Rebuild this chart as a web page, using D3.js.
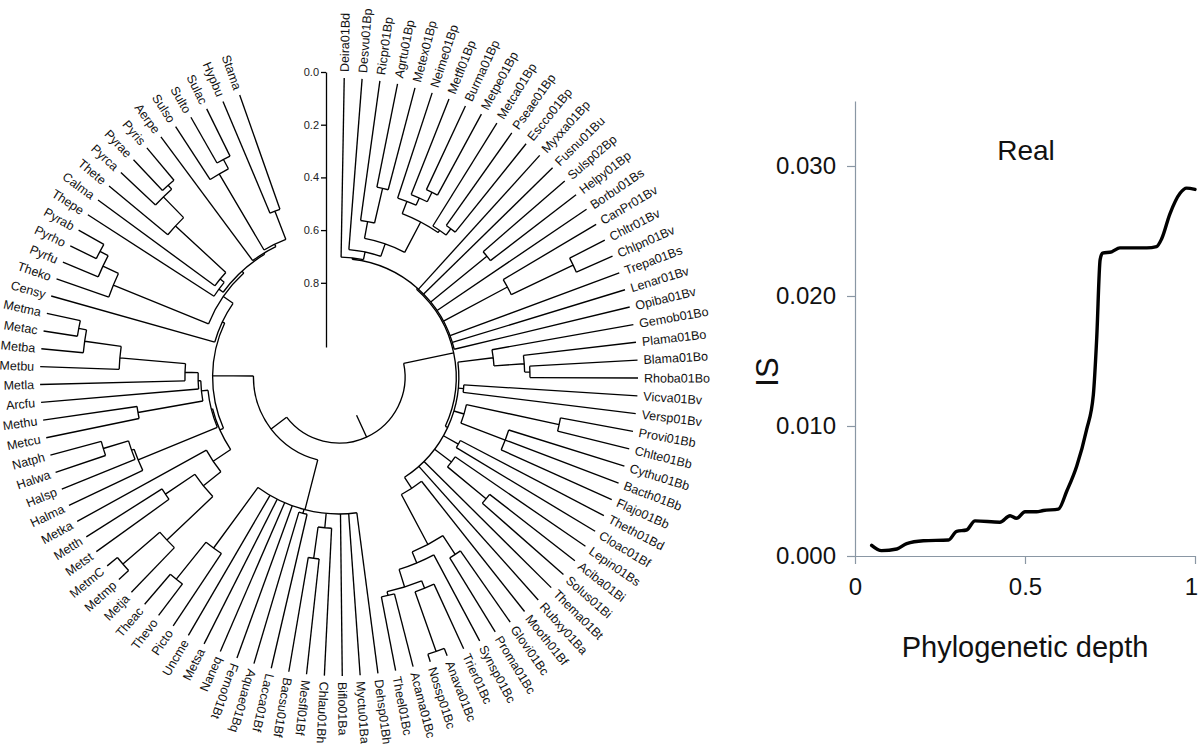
<!DOCTYPE html>
<html>
<head>
<meta charset="utf-8">
<script src="https://cdn.jsdelivr.net/npm/d3@7"></script>
<style>
body { margin: 0; background: #fff; }
svg { display: block; font-family: "Liberation Sans", Arial, Helvetica, sans-serif; }
</style>
</head>
<body>
<svg id="chart" width="1200" height="754"></svg>
<script>
// ---- tree data: internal node = [depth, ...children], leaf = name
// depth (0 = tips)
const proteo = [0.60,
  [0.535, "Ricpr01Bp", [0.40, "Agrtu01Bp", "Metex01Bp"]],
  [0.47,
    [0.42, "Neime01Bp", [0.39, "Metfl01Bp", [0.35, "Burma01Bp", "Metpe01Bp"]]],
    [0.46, "Metca01Bp", [0.43, "Pseae01Bp", "Escco01Bp"]]]]

const upperBact = [0.685,
  [0.68, "Deira01Bd", [0.65, "Desvu01Bp", proteo]],
  "Myxxa01Bp", "Fusnu01Bu", [0.41, "Sulsp02Bp", "Helpy01Bp"], "Borbu01Bs",
  [0.41, "CanPr01Bv", [0.15, "Chltr01Bv", "Chlpn01Bv"]],
  "Trepa01Bs", "Lenar01Bv", "Opiba01Bv"]

const cyano = [0.415,
  [0.33, "Glovi01Bc", "Proma01Bc"],
  [0.37, "Synsp01Bc",
    [0.30, [0.27, "Trier01Bc", [0.03, "Anava01Bc", "Nossp01Bc"]],
           [0.285, "Acama01Bc", "Theel01Bc"]]]]

const lowerBact = [0.68,
  [0.545, "Gemob01Bo", [0.43, "Plama01Bo", [0.41, "Blama01Bo", "Rhoba01Bo"]]],
  [0.66, "Vicva01Bv", "Versp01Bv"],
  [0.64, [0.28, "Provi01Bb", "Chlte01Bb"], [0.46, "Cythu01Bb", "Bacth01Bb", "Flajo01Bb"]],
  [0.615, "Theth01Bd", "Cloac01Bf"],
  [0.60, "Lepin01Bs", [0.41, "Aciba01Bi", "Solus01Bi"]],
  "Thema01Bt", "Rubxy01Ba",
  [0.63, "Mooth01Bf", cyano]]

const bottomMix = [0.615,
  "Dehsp01Bh", "Myctu01Ba", "Biflo01Ba",
  [0.56, "Chlau01Bh", [0.44, "Mesfl01Bf", "Bacsu01Bf"]],
  [0.60, "Lacca01Bf", "Aquae01Bq"], "Ferno01Bt",
  "Naneq", "Metsa", "Uncme",
  [0.33, "Picto", [0.15, "Thevo", "Theac"]]]

const methano = [0.475, [0.235, "Metja", [0.05, "Metmp", "MetmC"]], [0.34, "Metst", "Metth"]]
const halo = [0.31, "Halma", [0.30, "Halsp", [0.20, "Halwa", "Natph"]]]
const sarcina = [0.60, "Arcfu", [0.55, "Metla", [0.30, "Metbu", [0.16, "Metba", [0.13, "Metac", "Metma"]]]]]
const eury = [0.64, [0.56, methano, "Metka"], [0.635, halo, [0.61, [0.36, "Metcu", "Methu"], sarcina]]]

const thermococ = [0.21, "Theko", [0.145, "Pyrfu", [0.11, "Pyrho", "Pyrab"]]]
const cren = [0.59,
  [0.57, "Thepe", [0.55, "Calma", [0.29, "Thete", [0.18, "Pyrca", [0.16, "Pyrae", "Pyris"]]]]],
  [0.585, "Aerpe", [0.575, [0.24, "Sulso", [0.20, "Sulto", "Sulac"]], [0.46, "Hypbu", "Stama"]]]]
const crenGroup = [0.645, "Censy", [0.60, thermococ, cren]]

const tree = [0.884, [0.69, upperBact, lowerBact], [0.81, bottomMix, [0.655, eury, crenGroup]]]
const rootEdge = 0.975
const scaleTicks = [0, 0.2, 0.4, 0.6, 0.8]

// ---- IS curve
const depthX = [0.049, 0.078, 0.123, 0.152, 0.201, 0.275, 0.299, 0.328, 0.353, 0.426, 0.456, 0.475,
  0.500, 0.534, 0.554, 0.598, 0.623, 0.652, 0.681, 0.701, 0.711, 0.721, 0.728, 0.755, 0.779,
  0.858, 0.887, 0.902, 0.926, 0.956, 0.975, 1.000]
const isVal = [0.00082, 0.00041, 0.00054, 0.00095, 0.00117, 0.00123, 0.0019, 0.0020, 0.0027, 0.0026, 0.0031, 0.0029,
  0.0034, 0.0034, 0.0035, 0.0036, 0.0050, 0.0069, 0.0097, 0.0124, 0.0168, 0.0228, 0.0233, 0.0234, 0.0237,
  0.0237, 0.0238, 0.0244, 0.0263, 0.0279, 0.0283, 0.0282]
const xTicks = [0, 0.5, 1]
const yTicks = [0, 0.01, 0.02, 0.03]

const svg = d3.select("#chart")

// ================= tree =================
const cx = 339, cy = 377, tipR = 299, unit = 263.5
const firstAngle = 1.0, lastAngle = 340.6, flipAngle = 201.5

const rad = d3.scaleLinear().domain([0, 1]).range([tipR, tipR - unit])

const root = d3.hierarchy(tree, d => Array.isArray(d) ? d.slice(1) : null)
root.each(n => { n.h = Array.isArray(n.data) ? n.data[0] : 0 })
const leaves = root.leaves()
const ang = d3.scaleLinear().domain([0, leaves.length - 1]).range([firstAngle, lastAngle])
leaves.forEach((n, i) => { n.a = ang(i) })
root.eachAfter(n => {
  if (n.children) n.a = (n.children[0].a + n.children[n.children.length - 1].a) / 2
})

function pt(a, r) {
  const t = (a - 90) * Math.PI / 180
  return [cx + r * Math.cos(t), cy + r * Math.sin(t)]
}

function branch(n) {
  const p = d3.path()
  const r0 = rad(n.h)
  const r1 = n.parent ? rad(n.parent.h) : rad(rootEdge)
  const a = pt(n.a, r0), b = pt(n.a, r1)
  p.moveTo(a[0], a[1]); p.lineTo(b[0], b[1])
  if (n.children) {
    const a0 = n.children[0].a, a1 = n.children[n.children.length - 1].a
    const s = pt(a0, r0)
    p.moveTo(s[0], s[1])
    p.arc(cx, cy, r0, (a0 - 90) * Math.PI / 180, (a1 - 90) * Math.PI / 180, false)
  }
  return p.toString()
}

svg.append("g").selectAll("path")
  .data(root.descendants())
  .join("path")
  .attr("d", branch)
  .attr("fill", "none")
  .attr("stroke", "#000")
  .attr("stroke-width", 1.35)

svg.append("g").selectAll("text")
  .data(leaves)
  .join("text")
  .attr("transform", d => `translate(${cx},${cy}) rotate(${d.a - 90}) translate(${tipR + 6},0)` + (d.a > flipAngle ? " rotate(180)" : ""))
  .attr("text-anchor", d => d.a > flipAngle ? "end" : "start")
  .attr("dy", "0.35em")
  .attr("font-size", "12.5px")
  .attr("fill", "#111")
  .text(d => d.data)

// scale bar
const sbar = d3.scaleLinear().domain([0, 1.044]).range([72, 72 + 1.044 * unit])
const sAxis = svg.append("g")
  .attr("transform", "translate(326,0)")
  .call(d3.axisLeft(sbar).tickValues(scaleTicks).tickFormat(d3.format(".1f")).tickSize(5).tickSizeOuter(0).tickPadding(2))
sAxis.selectAll("path, line").attr("stroke", "#000").attr("stroke-width", 1.3)
sAxis.selectAll("text").attr("font-size", "11px").attr("fill", "#222").attr("font-family", "Liberation Sans, Arial, sans-serif")

// ================= IS curve =================
const x = d3.scaleLinear().domain([0, 1]).range([855, 1195])
const y = d3.scaleLinear().domain([0, 0.035]).range([556, 101])
const axisColor = "#8a97a4"

const gx = svg.append("g")
  .attr("transform", `translate(0,${y(0)})`)
  .call(d3.axisBottom(x).tickValues(xTicks).tickFormat(d3.format("~g")).tickSize(8).tickSizeOuter(0).tickPadding(14))
const gy = svg.append("g")
  .attr("transform", `translate(${x(0)},0)`)
  .call(d3.axisLeft(y).tickValues(yTicks).tickFormat(d3.format(".3f")).tickSize(8).tickSizeOuter(0).tickPadding(11))
gx.selectAll("path, line").attr("stroke", axisColor).attr("stroke-width", 1.2)
gy.selectAll("path, line").attr("stroke", axisColor).attr("stroke-width", 1.2)
gx.selectAll("text").attr("font-size", "24px").attr("fill", "#111").attr("font-family", "Liberation Sans, Arial, sans-serif")
  .attr("dx", d => d === 1 ? -4 : 0)
gy.selectAll("text").attr("font-size", "24px").attr("fill", "#111").attr("font-family", "Liberation Sans, Arial, sans-serif")

const pts = depthX.map((d, i) => [d, isVal[i]])
svg.append("path")
  .datum(pts)
  .attr("fill", "none")
  .attr("stroke", "#000")
  .attr("stroke-width", 3.4)
  .attr("stroke-linejoin", "round")
  .attr("stroke-linecap", "round")
  .attr("d", d3.line().x(d => x(d[0])).y(d => y(d[1])).curve(d3.curveMonotoneX))

svg.append("text")
  .attr("x", 1026).attr("y", 150).attr("dy", "0.35em")
  .attr("text-anchor", "middle").attr("font-size", "28px").attr("fill", "#111")
  .text("Real")

svg.append("text")
  .attr("transform", "translate(767,372) rotate(-90)")
  .attr("dy", "0.35em")
  .attr("text-anchor", "middle").attr("font-size", "31px").attr("fill", "#111")
  .text("IS")

svg.append("text")
  .attr("x", 1025).attr("y", 647).attr("dy", "0.35em")
  .attr("text-anchor", "middle").attr("font-size", "29px").attr("fill", "#111")
  .text("Phylogenetic depth")
</script>
</body>
</html>
